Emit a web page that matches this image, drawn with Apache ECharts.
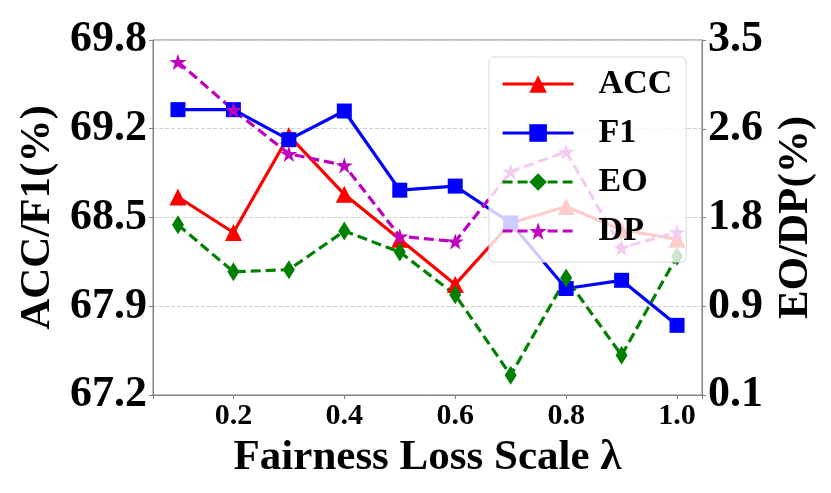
<!DOCTYPE html>
<html>
<head>
    <meta charset="utf-8">
    <title>Fairness Loss Scale</title>
    <script src="https://cdn.jsdelivr.net/npm/echarts@6/dist/echarts.min.js"></script>
    <style>
        html, body { margin: 0; padding: 0; background: #fff; }
        #main { width: 831px; height: 493px; }
    </style>
</head>
<body>
<div id="main"></div>
<script type="text/javascript">
    // x values (lambda)
    var lambdas = [0.1, 0.2, 0.3, 0.4, 0.5, 0.6, 0.7, 0.8, 0.9, 1.0];
    // left axis series
    var acc = [68.65, 68.39, 69.10, 68.67, 68.34, 68.01, 68.46, 68.58, 68.41, 68.34];
    var f1 = [69.29, 69.29, 69.07, 69.28, 68.70, 68.73, 68.46, 67.98, 68.04, 67.71];
    // right axis series
    var eo = [1.73, 1.28, 1.30, 1.67, 1.47, 1.06, 0.29, 1.22, 0.48, 1.43];
    var dp = [3.29, 2.83, 2.41, 2.30, 1.62, 1.57, 2.24, 2.43, 1.51, 1.66];
    // tick labels
    var xTicks = [0.2, 0.4, 0.6, 0.8, 1.0];
    var leftTicks = ['67.2', '67.9', '68.5', '69.2', '69.8'];
    var rightTicks = ['0.1', '0.9', '1.8', '2.6', '3.5'];

    var FONT = '"Liberation Serif", "Times New Roman", serif';
    var starPath = 'path://M0,-100L22.45,-30.9L95.1,-30.9L36.3,11.8L58.8,80.9L0,38.2L-58.8,80.9L-36.3,11.8L-95.1,-30.9L-22.45,-30.9Z';

    function pairs(ys) {
        return lambdas.map(function (x, i) { return [x, ys[i]]; });
    }

    var myChart = echarts.init(document.getElementById('main'));

    var option = {
        backgroundColor: '#FFFFFF',
        animation: false,
        grid: {
            left: 153, right: 129, top: 40, bottom: 98,
            show: true, borderColor: '#808080', borderWidth: 1
        },
        legend: {
            orient: 'vertical',
            left: 489, top: 57,
            padding: [10, 14, 14, 12],
            itemWidth: 71, itemHeight: 22,
            itemGap: 15,
            backgroundColor: 'rgba(255,255,255,0.8)',
            borderColor: '#d8d8d8', borderWidth: 1, borderRadius: 5,
            lineStyle: { width: 3.2 },
            textStyle: {
                fontFamily: FONT, fontWeight: 'bold', fontSize: 34, color: '#000',
                padding: [0, 0, 0, 20]
            },
            data: ['ACC', 'F1', 'EO', 'DP']
        },
        xAxis: {
            type: 'value',
            min: 0.055, max: 1.045,
            splitNumber: 5,
            name: 'Fairness Loss Scale λ',
            nameLocation: 'middle',
            nameGap: 36,
            nameTextStyle: { fontFamily: FONT, fontWeight: 'bold', fontSize: 43, color: '#000' },
            axisLine: { lineStyle: { color: '#808080' } },
            axisTick: { length: 4, lineStyle: { color: '#808080' } },
            axisLabel: {
                fontFamily: FONT, fontWeight: 'bold', fontSize: 30, color: '#000', margin: 6,
                formatter: function (v) {
                    for (var i = 0; i < xTicks.length; i++) {
                        if (Math.abs(v - xTicks[i]) < 1e-6) return xTicks[i].toFixed(1);
                    }
                    return '';
                }
            },
            splitLine: { show: false }
        },
        yAxis: [{
            type: 'value',
            min: 67.2, max: 69.8, interval: 0.65,
            name: 'ACC/F1(%)',
            nameLocation: 'middle',
            nameGap: 88,
            nameRotate: 90,
            nameTextStyle: { fontFamily: FONT, fontWeight: 'bold', fontSize: 43, color: '#000' },
            axisLine: { show: true, lineStyle: { color: '#808080' } },
            axisTick: { show: true, length: 4, lineStyle: { color: '#808080' } },
            axisLabel: {
                fontFamily: FONT, fontWeight: 'bold', fontSize: 44, color: '#000', margin: 6,
                formatter: function (v, i) { return leftTicks[i]; }
            },
            splitLine: { show: true, lineStyle: { color: '#cfcfcf', type: [4, 2], width: 1 } }
        }, {
            type: 'value',
            min: 0.1, max: 3.5, interval: 0.85,
            name: 'EO/DP(%)',
            nameLocation: 'middle',
            nameGap: 61,
            nameRotate: 90,
            nameTextStyle: { fontFamily: FONT, fontWeight: 'bold', fontSize: 43, color: '#000' },
            axisLine: { show: true, lineStyle: { color: '#808080' } },
            axisTick: { show: true, length: 4, lineStyle: { color: '#808080' } },
            axisLabel: {
                fontFamily: FONT, fontWeight: 'bold', fontSize: 44, color: '#000', margin: 6,
                formatter: function (v, i) { return rightTicks[i]; }
            },
            splitLine: { show: false }
        }],
        series: [{
            name: 'ACC', type: 'line', yAxisIndex: 0,
            data: pairs(acc),
            symbol: 'triangle', symbolSize: 17,
            lineStyle: { color: '#ff0000', width: 3.2 },
            itemStyle: { color: '#ff0000' }
        }, {
            name: 'F1', type: 'line', yAxisIndex: 0,
            data: pairs(f1),
            symbol: 'rect', symbolSize: 15,
            lineStyle: { color: '#0000ff', width: 3.2 },
            itemStyle: { color: '#0000ff' }
        }, {
            name: 'EO', type: 'line', yAxisIndex: 1,
            data: pairs(eo),
            symbol: 'diamond', symbolSize: [12, 19],
            lineStyle: { color: '#008000', width: 3.2, type: [10, 5] },
            itemStyle: { color: '#008000' }
        }, {
            name: 'DP', type: 'line', yAxisIndex: 1,
            data: pairs(dp),
            symbol: starPath, symbolSize: 17, symbolKeepAspect: true,
            lineStyle: { color: '#bf00bf', width: 3.2, type: [10, 5] },
            itemStyle: { color: '#bf00bf' }
        }]
    };

    myChart.setOption(option);
</script>
</body>
</html>
